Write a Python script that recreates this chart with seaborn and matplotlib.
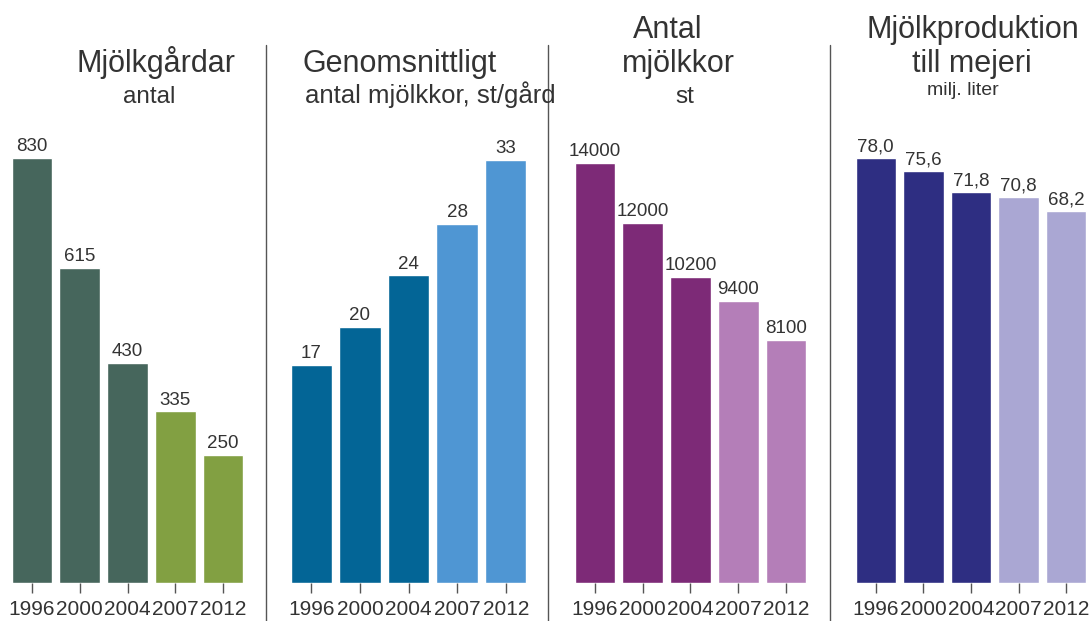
import seaborn as sns
import matplotlib.pyplot as plt
from matplotlib.lines import Line2D

years = ['1996', '2000', '2004', '2007', '2012']

farms = [830, 615, 430, 335, 250]
cows_per_farm = [17, 20, 24, 28, 33]
cows = [14000, 12000, 10200, 9400, 8100]
milk = [78.0, 75.6, 71.8, 70.8, 68.2]

farm_labels = ['830', '615', '430', '335', '250']
cpf_labels = ['17', '20', '24', '28', '33']
cow_labels = ['14000', '12000', '10200', '9400', '8100']
milk_labels = ['78,0', '75,6', '71,8', '70,8', '68,2']

sns.set_theme(style="white")
plt.rcParams['font.family'] = ['Liberation Sans', 'DejaVu Sans']
txt = '#333333'
grey = '#555555'

W, H = 1090, 621
fig = plt.figure(figsize=(W / 100, H / 100), dpi=100)

# panel: (values, labels, colours, axes left px, right px, px height of tallest bar)
panels = [
    (farms, farm_labels, ['#46665c'] * 3 + ['#82a042'] * 2, 8, 247, 425),
    (cows_per_farm, cpf_labels, ['#036596'] * 3 + ['#4f96d3'] * 2, 287, 530, 423),
    (cows, cow_labels, ['#7d2a77'] * 3 + ['#b47eb8'] * 2, 571, 810, 420),
    (milk, milk_labels, ['#2e2e82'] * 3 + ['#aaa7d3'] * 2, 852, 1090, 425),
]

base = 583
for vals, labs, cols, x0, x1, hpx in panels:
    ax = fig.add_axes([x0 / W, (H - base) / H, (x1 - x0) / W, base / H])
    sns.barplot(x=years, y=vals, hue=years, palette=cols, legend=False,
                saturation=1, width=0.85, ax=ax)
    ax.set_ylim(0, max(vals) * base / hpx)
    ax.set_xlim(-0.5, 4.5)
    for c, lab in zip(ax.containers, labs):
        ax.bar_label(c, labels=[lab], padding=2, fontsize=13.5, color=txt)
    sns.despine(ax=ax, left=True, bottom=True)
    ax.set_yticks([])
    ax.set_xlabel('')
    ax.set_ylabel('')
    ax.tick_params(axis='x', bottom=True, length=7.5, width=1, color=grey,
                   pad=5, labelsize=15, labelcolor=txt)
    ax.patch.set_alpha(0)

# separators between panels
for x in [266, 548, 830]:
    fig.add_artist(Line2D([x / W, x / W], [0, 1 - 45 / H], color=grey, lw=1))

def head(x, y, s, size):
    fig.text(x / W, 1 - y / H, s, ha='center', va='baseline', fontsize=size, color=txt)

head(156, 72, 'Mjölkgårdar', 22)
head(149, 103, 'antal', 17.5)
head(400, 72, 'Genomsnittligt', 22)
head(430, 103, 'antal mjölkkor, st/gård', 18.5)
head(668, 38, 'Antal', 22)
head(678, 72, 'mjölkkor', 22)
head(685, 103, 'st', 17.5)
head(973, 38, 'Mjölkproduktion', 22)
head(972, 72, 'till mejeri', 22)
head(963, 95, 'milj. liter', 14)

fig.savefig('out.png', dpi=100)
